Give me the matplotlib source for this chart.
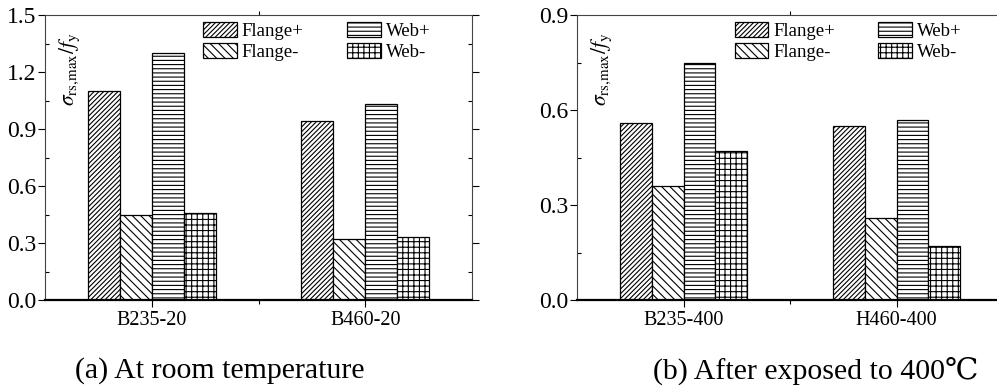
import numpy as np
import matplotlib
matplotlib.use('Agg')
import matplotlib.pyplot as plt
from matplotlib.ticker import MultipleLocator, FixedLocator, FormatStrFormatter

plt.rcParams['font.family'] = ['Liberation Serif', 'DejaVu Serif']
plt.rcParams['mathtext.fontset'] = 'stix'
plt.rcParams['hatch.linewidth'] = 0.8

series = ['Flange+', 'Flange-', 'Web+', 'Web-']
hatches = ['///////', '\\\\\\\\', '----', '+++']

# room temperature specimens
groups_a = ['B235-20', 'B460-20']
flange_pos_a = [1.10, 0.94]
flange_neg_a = [0.45, 0.32]
web_pos_a = [1.30, 1.03]
web_neg_a = [0.46, 0.33]

# after exposure to 400 C
groups_b = ['B235-400', 'H460-400']
flange_pos_b = [0.56, 0.55]
flange_neg_b = [0.36, 0.26]
web_pos_b = [0.75, 0.57]
web_neg_b = [0.47, 0.17]

W, H = 997, 392
fig = plt.figure(figsize=(W / 100, H / 100), dpi=100)
ax_a = fig.add_axes([45 / W, (H - 300) / H, 427 / W, 285 / H])
ax_b = fig.add_axes([577 / W, (H - 300) / H, 426 / W, 285 / H])


def draw_panel(ax, groups, data, ymax, ystep):
    x = np.arange(len(groups))
    width = 0.15
    for i, (vals, name, hatch) in enumerate(zip(data, series, hatches)):
        ax.bar(x + (i - 1.5) * width, vals, width, label=name, color='white',
               edgecolor='black', linewidth=0.9, hatch=hatch)
    ax.set_xlim(-0.5, 1.5)
    ax.set_ylim(0, ymax)
    ax.set_xticks(x)
    ax.set_xticklabels(groups, fontsize=14.5)
    ax.xaxis.set_minor_locator(FixedLocator([0.5]))
    ax.yaxis.set_major_locator(MultipleLocator(ystep))
    ax.yaxis.set_minor_locator(MultipleLocator(ystep / 2))
    ax.yaxis.set_major_formatter(FormatStrFormatter('%.1f'))
    ax.tick_params(axis='y', which='major', direction='out', length=5, width=0.8,
                   labelsize=17, pad=1, right=True)
    ax.tick_params(axis='y', which='minor', direction='in', length=3, width=0.8,
                   right=True)
    ax.tick_params(axis='x', which='major', direction='out', length=5, width=0.8,
                   pad=3)
    ax.tick_params(axis='x', which='minor', direction='out', length=3, width=0.8,
                   top=True)
    for side in ['left', 'top', 'right']:
        ax.spines[side].set_linewidth(0.8)
        ax.spines[side].set_color('#444444')
    ax.spines['bottom'].set_linewidth(1.6)
    ax.text(0.058, 0.94, r'$\sigma_{\rm rs{,}max}/f_{\rm y}$', transform=ax.transAxes,
            rotation=90, ha='center', va='top', fontsize=15.5)
    ax.legend(ncol=2, loc='upper left', bbox_to_anchor=(0.37, 0.975), frameon=False,
              fontsize=13.5, borderpad=0, handlelength=1.8, handleheight=0.85,
              handletextpad=0.27, labelspacing=0.16, columnspacing=2.3,
              borderaxespad=0)


draw_panel(ax_a, groups_a, [flange_pos_a, flange_neg_a, web_pos_a, web_neg_a], 1.5, 0.3)
draw_panel(ax_b, groups_b, [flange_pos_b, flange_neg_b, web_pos_b, web_neg_b], 0.9, 0.3)

fig.text(75 / W, 1 - 371 / H, '(a) At room temperature', fontsize=21.5, va='center')
fig.text(653 / W, 1 - 371 / H, '(b) After exposed to 400℃', fontsize=21.5, va='center')

fig.savefig('out.png', dpi=100)
